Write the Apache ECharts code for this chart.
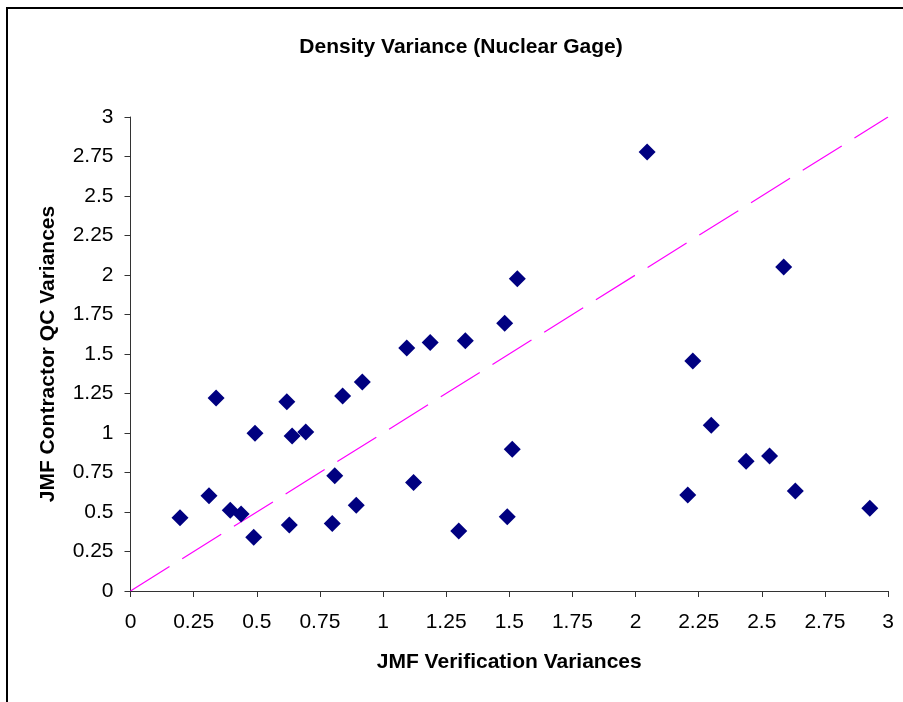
<!DOCTYPE html>
<html>
<head>
<meta charset="utf-8">
<script src="https://cdn.jsdelivr.net/npm/echarts@6/dist/echarts.min.js"></script>
<style>
html,body{margin:0;padding:0;background:#fff;}
#chart{width:903px;height:702px;}
</style>
</head>
<body>
<div id="chart"></div>
<script>
const titleText = "Density Variance (Nuclear Gage)";
const xName = "JMF Verification Variances";
const yName = "JMF Contractor QC Variances";

const verification = [0.196,0.311,0.339,0.395,0.438,0.493,0.488,0.619,0.640,0.629,0.694,0.809,0.799,0.840,0.918,0.894,1.094,1.187,1.121,1.300,1.326,1.482,1.512,1.492,1.532,2.046,2.587,2.227,2.300,2.207,2.438,2.531,2.633,2.928];
const contractorQC = [0.464,0.603,1.222,0.511,0.487,0.998,0.340,1.198,0.981,0.418,1.006,0.730,0.428,1.234,1.323,0.542,1.538,1.572,0.686,0.380,1.584,1.694,0.897,0.470,1.977,2.778,2.051,1.456,1.049,0.608,0.821,0.854,0.633,0.523];
const equalityLine = [[0,0],[3,3]];
const axisMin = 0, axisMax = 3, axisStep = 0.25;

const points = verification.map((v,i)=>[v, contractorQC[i]]);

const chart = echarts.init(document.getElementById('chart'), null, {renderer:'canvas'});
const font = 'Liberation Sans, Arial, Helvetica, sans-serif';
const axisCommon = {
  type:'value', min:axisMin, max:axisMax, interval:axisStep,
  nameLocation:'middle',
  nameTextStyle:{fontFamily:font, fontWeight:'bold', fontSize:21, color:'#000'},
  axisLine:{show:true, onZero:false, lineStyle:{color:'#333', width:1}},
  axisTick:{show:true, inside:false, length:6, lineStyle:{color:'#333'}},
  splitLine:{show:false},
  axisLabel:{fontFamily:font, fontSize:21, color:'#000'}
};
chart.setOption({
  animation:false,
  backgroundColor:'#fff',
  title:{text:titleText, left:456, top:32, textAlign:'center',
    textStyle:{fontFamily:font, fontWeight:'bold', fontSize:21, color:'#000'}},
  grid:{left:130.5, right:15, top:117, bottom:111, containLabel:false},
  xAxis:Object.assign({}, axisCommon, {name:xName, nameGap:61,
    axisLabel:Object.assign({}, axisCommon.axisLabel, {margin:21})}),
  yAxis:Object.assign({}, axisCommon, {name:yName, nameGap:72,
    axisLabel:Object.assign({}, axisCommon.axisLabel, {margin:17})}),
  graphic:[{type:'rect', shape:{x:7, y:8, width:1100, height:900},
    style:{fill:'none', stroke:'#000', lineWidth:2}, silent:true, z:100}],
  series:[
    {type:'line', data:equalityLine, symbol:'none', silent:true,
     lineStyle:{color:'#FF00FF', width:1.2, type:[46,15]}, z:1},
    {type:'scatter', data:points, symbol:'diamond', symbolSize:17,
     itemStyle:{color:'#000080', opacity:1}, z:2}
  ]
});
</script>
</body>
</html>
